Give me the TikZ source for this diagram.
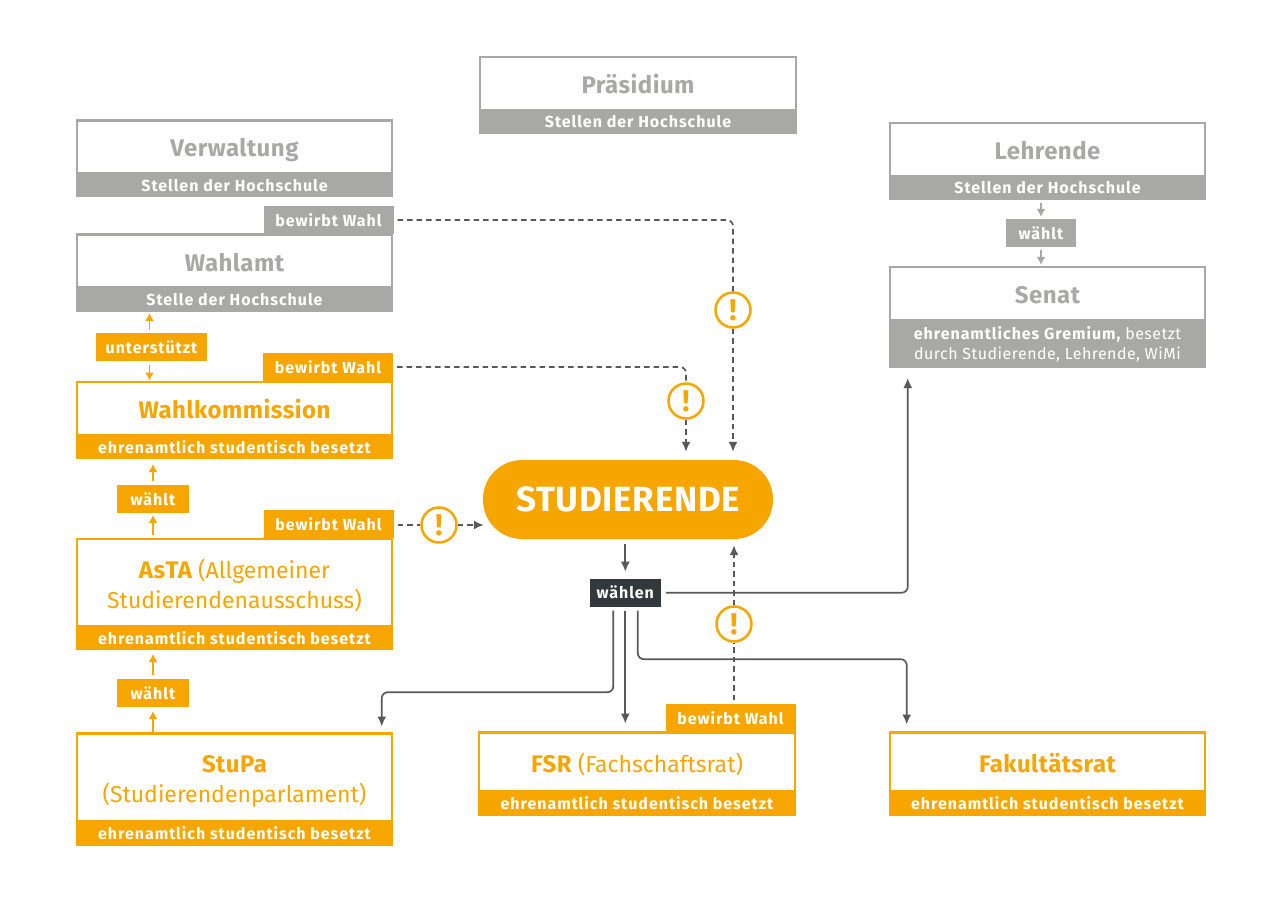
\documentclass[tikz,border=0pt]{standalone}
\usepackage{fontspec}
\setmainfont{Fira Sans}
\newfontfamily\barfont{Fira Sans}[LetterSpace=6]
\newfontfamily\thinfont{Fira Sans}[LetterSpace=3]
\newfontfamily\titlefont{Fira Sans}[LetterSpace=2]
\newcommand{\hl}[1]{{\fontsize{24}{30}\titlefont\bfseries #1}}
\usetikzlibrary{positioning,arrows.meta}
\definecolor{hsorange}{HTML}{F7A600}
\definecolor{hsgray}{HTML}{A8A8A6}
\definecolor{hsdark}{HTML}{32393D}
\definecolor{hsline}{HTML}{58595B}
\tikzset{
	head/.style={draw=#1, text=#1, fill=white, line width=2.2pt, minimum width=315.5pt, inner sep=0pt, outer sep=0pt, align=center, text height=20pt, text depth=0pt, font=\fontsize{23}{30}\selectfont},
	bar/.style={fill=#1, text=white, minimum width=317.5pt, inner sep=0pt, outer sep=0pt, align=center, font=\fontsize{16}{20}\barfont\bfseries},
	tag/.style={fill=#1, text=white, minimum height=28pt, inner sep=0pt, outer sep=0pt, font=\fontsize{16}{20}\barfont\bfseries},
	warn/.style={circle, draw=hsorange, text=hsorange, fill=white, line width=2.5pt, minimum size=35pt, inner sep=0pt, font=\fontsize{30}{30}\selectfont\bfseries},
	flow/.style={draw=hsline, line width=1.7pt, rounded corners=6pt, -{Latex[length=10pt,width=9pt]}},
	dashflow/.style={flow, dash pattern=on 5.5pt off 4pt},
	dashline/.style={draw=hsline, line width=1.7pt, rounded corners=6pt, dash pattern=on 5.5pt off 4pt},
	small/.style={draw=#1, line width=1.5pt, -{Latex[length=8pt,width=9pt]}},
}
\begin{document}
\begin{tikzpicture}[x=1pt, y=-1pt]
	\useasboundingbox (0,0) rectangle (1280,904);

	% top row
	\node[head=hsgray, minimum height=53pt] (praesidium) at (638,83.5) {\hl{Präsidium}};
	\node[bar=hsgray, minimum height=24pt, below=0pt of praesidium] (praesidiumbar) {Stellen der Hochschule};

	% left column
	\node[head=hsgray, minimum height=53pt] (verwaltung) at (234.5,147) {\hl{Verwaltung}};
	\node[bar=hsgray, minimum height=24pt, below=0pt of verwaltung] (verwaltungbar) {Stellen der Hochschule};
	\node[head=hsgray, minimum height=53pt] (wahlamt) at (234.5,261) {\hl{Wahlamt}};
	\node[bar=hsgray, minimum height=24pt, below=0pt of wahlamt] (wahlamtbar) {Stelle der Hochschule};
	\node[head=hsorange, minimum height=53pt] (wahlkom) at (234.5,408.5) {\hl{Wahlkommission}};
	\node[bar=hsorange, minimum height=24pt, below=0pt of wahlkom] (wahlkombar) {ehrenamtlich studentisch besetzt};
	\node[head=hsorange, minimum height=87pt, text height=52pt] (asta) at (234.5,582.5) {\hl{AsTA} (Allgemeiner\\Studierendenausschuss)};
	\node[bar=hsorange, minimum height=24pt, below=0pt of asta] (astabar) {ehrenamtlich studentisch besetzt};
	\node[head=hsorange, minimum height=88pt, text height=50pt] (stupa) at (234.5,777.5) {\hl{StuPa}\\(Studierendenparlament)};
	\node[bar=hsorange, minimum height=24pt, below=0pt of stupa] (stupabar) {ehrenamtlich studentisch besetzt};

	% bottom row
	\node[head=hsorange, minimum height=59pt] (fsr) at (637,762) {\hl{FSR} (Fachschaftsrat)};
	\node[bar=hsorange, minimum height=24pt, below=0pt of fsr] (fsrbar) {ehrenamtlich studentisch besetzt};
	\node[head=hsorange, minimum height=59pt] (fakrat) at (1047.5,762) {\hl{Fakultätsrat}};
	\node[bar=hsorange, minimum height=24pt, below=0pt of fakrat] (fakratbar) {ehrenamtlich studentisch besetzt};

	% right column
	\node[head=hsgray, minimum height=53pt] (lehrende) at (1047.5,149.5) {\hl{Lehrende}};
	\node[bar=hsgray, minimum height=24pt, below=0pt of lehrende] (lehrendebar) {Stellen der Hochschule};
	\node[head=hsgray, minimum height=53pt] (senat) at (1047.5,293.5) {\hl{Senat}};
	\node[bar=hsgray, minimum height=48pt, below=0pt of senat, font=\fontsize{16}{20}\thinfont] (senatbar) {{\barfont\bfseries ehrenamtliches Gremium,} besetzt\\durch Studierende, Lehrende, WiMi};

	% tags
	\node[tag=hsgray, minimum width=130pt] (tagverwaltung) at (328.5,220) {bewirbt Wahl};
	\node[tag=hsorange, minimum width=130pt] (tagwahlkom) at (328,367) {bewirbt Wahl};
	\node[tag=hsorange, minimum width=130pt] (tagasta) at (328.5,524) {bewirbt Wahl};
	\node[tag=hsorange, minimum width=130pt] (tagfsr) at (730.5,718) {bewirbt Wahl};
	\node[tag=hsorange, minimum width=111pt] (unterstuetzt) at (151.5,347) {unterstützt};
	\node[tag=hsorange, minimum width=72pt] (waehltasta) at (153,499) {wählt};
	\node[tag=hsorange, minimum width=72pt] (waehltstupa) at (153,693) {wählt};
	\node[tag=hsgray, minimum width=70pt] (waehltlehrende) at (1041,233) {wählt};

	% center
	\node[fill=hsorange, text=white, rounded corners=39pt, minimum width=290pt, minimum height=79pt, inner sep=0pt, font=\fontsize{35}{35}\titlefont\bfseries] (studierende) at (628,499.5) {STUDIERENDE};
	\node[tag=hsdark, minimum width=71pt] (waehlen) at (625.3,592.7) {wählen};

	\node[warn] (warnverwaltung) at (733,310) {!};
	\node[warn] (warnwahlkom) at (686,401) {!};
	\node[warn] (warnasta) at (439,525) {!};
	\node[warn] (warnfsr) at (734,624) {!};

	% dashed connectors
	\draw[dashline, shorten <=4pt] (tagverwaltung.east) -| (warnverwaltung.north);
	\draw[dashflow, shorten >=8pt] (warnverwaltung.south) -- (warnverwaltung.south |- studierende.north);
	\draw[dashline, shorten <=4pt] (tagwahlkom.east) -| (warnwahlkom.north);
	\draw[dashflow, shorten >=8pt] (warnwahlkom.south) -- (warnwahlkom.south |- studierende.north);
	\draw[dashline, shorten <=4pt] (tagasta.east |- warnasta) -- (warnasta.west);
	\draw[dashflow, shorten >=-1pt] (warnasta.east) -- (warnasta.east -| studierende.west);
	\draw[dashline, shorten <=4pt] (tagfsr.north -| warnfsr) -- (warnfsr.south);
	\draw[dashflow, shorten >=6pt] (warnfsr.north) -- (warnfsr.north |- studierende.south);

	% solid connectors
	\draw[flow, shorten <=5pt, shorten >=7pt] (waehlen.north |- studierende.south) -- (waehlen.north);
	\draw[flow, shorten <=5pt, shorten >=10pt] (waehlen.east) -| ([xshift=19pt]senatbar.south west);
	\draw[flow, shorten <=4pt, shorten >=7pt] ([xshift=-12pt]waehlen.south) -- ++(0,85.5) -| ([xshift=-10.5pt]stupa.north east);
	\draw[flow, shorten <=4pt, shorten >=9pt] (waehlen.south) -- (waehlen.south |- fsr.north);
	\draw[flow, shorten <=4pt, shorten >=8pt] ([xshift=12.5pt]waehlen.south) -- ++(0,52.5) -| ([xshift=17pt]fakrat.north west);

	% small arrows
	\draw[small=hsorange, shorten <=3pt, shorten >=1.5pt] ([xshift=-2pt]unterstuetzt.north) -- ([xshift=-2pt]unterstuetzt.north |- wahlamtbar.south);
	\draw[small=hsorange, shorten <=4pt, shorten >=1.5pt] ([xshift=-2pt]unterstuetzt.south) -- ([xshift=-2pt]unterstuetzt.south |- wahlkom.north);
	\draw[small=hsorange, shorten <=4pt, shorten >=5pt] (waehltasta.north) -- (waehltasta.north |- wahlkombar.south);
	\draw[small=hsorange, shorten <=4pt, shorten >=2pt] (waehltasta.south |- asta.north) -- (waehltasta.south);
	\draw[small=hsorange, shorten <=4pt, shorten >=4pt] (waehltstupa.north) -- (waehltstupa.north |- astabar.south);
	\draw[small=hsorange, shorten <=2pt, shorten >=4pt] (waehltstupa.south |- stupa.north) -- (waehltstupa.south);
	\draw[small=hsgray, shorten <=3pt, shorten >=2pt] (waehltlehrende.north |- lehrendebar.south) -- (waehltlehrende.north);
	\draw[small=hsgray, shorten <=3pt, shorten >=2pt] (waehltlehrende.south) -- (waehltlehrende.south |- senat.north);
\end{tikzpicture}
\end{document}
